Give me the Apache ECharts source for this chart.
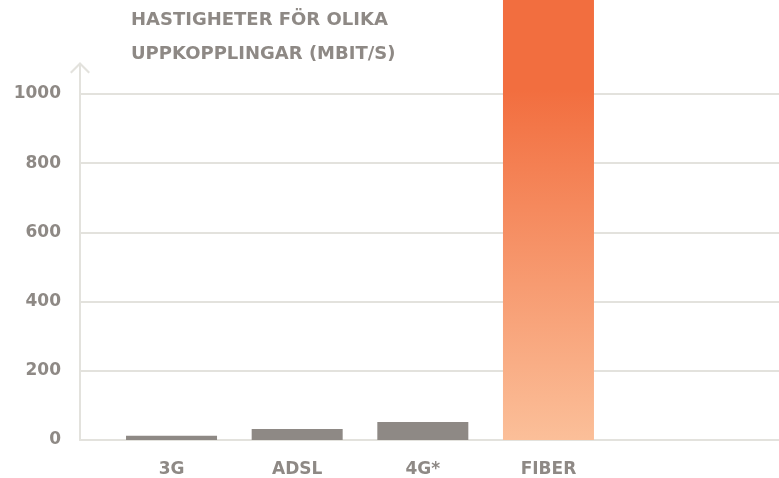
<!DOCTYPE html>
<html>
<head>
<meta charset="utf-8">
<script src="https://cdn.jsdelivr.net/npm/echarts@6/dist/echarts.min.js"></script>
<style>
html,body{margin:0;padding:0;background:#fff;}
#c{width:779px;height:478px;}
</style>
</head>
<body>
<div id="c"></div>
<script>
var categories = ['3G', 'ADSL', '4G*', 'FIBER'];
var speeds = [12, 32, 52, 1300];
var yTicks = [0, 200, 400, 600, 800, 1000];
var titleText = 'HASTIGHETER FÖR OLIKA\nUPPKOPPLINGAR (MBIT/S)';

var textGrey = '#8e8985';
var barGrey = '#8e8985';
var lineGrey = '#e3e2dd';
var font = 'DejaVu Sans';

var chart = echarts.init(document.getElementById('c'), null, {renderer: 'canvas'});

var arrowPath = 'path://M10 0 L20 10 L18.5 11.5 L11 4 L11 32 L9 32 L9 4 L1.5 11.5 L0 10 Z';

var option = {
  animation: false,
  backgroundColor: '#ffffff',
  title: {
    text: titleText,
    left: 126,
    top: -2,
    textStyle: {
      fontFamily: font,
      fontWeight: 'bold',
      fontSize: 18,
      color: textGrey,
      lineHeight: 34.5
    }
  },
  grid: [
    {left: 80, right: 0, top: 94, bottom: 38, containLabel: false},
    {left: 108.7, right: 167.7, top: 94, bottom: 38, containLabel: false}
  ],
  xAxis: [
    {
      type: 'category',
      gridIndex: 0,
      data: [''],
      axisLine: {show: true, lineStyle: {color: lineGrey, width: 2}},
      axisTick: {show: false},
      axisLabel: {show: false},
      splitLine: {show: false}
    },
    {
      type: 'category',
      gridIndex: 1,
      data: categories,
      axisLine: {show: false},
      axisTick: {show: false},
      axisLabel: {
        margin: 21,
        fontFamily: font,
        fontWeight: 'bold',
        fontSize: 17,
        color: textGrey
      },
      splitLine: {show: false}
    }
  ],
  yAxis: [
    {
      type: 'value',
      gridIndex: 0,
      min: yTicks[0],
      max: yTicks[yTicks.length - 1],
      interval: 200,
      axisLine: {
        show: true,
        symbol: ['none', arrowPath],
        symbolSize: [20, 32],
        symbolOffset: [0, 16],
        lineStyle: {color: lineGrey, width: 2}
      },
      axisTick: {show: false},
      axisLabel: {
        margin: 19,
        padding: [0, 0, 10, 0],
        fontFamily: font,
        fontWeight: 'bold',
        fontSize: 17,
        color: textGrey,
        formatter: function (v) { return String(v); }
      },
      splitLine: {show: true, lineStyle: {color: lineGrey, width: 2}}
    },
    {
      type: 'value',
      gridIndex: 1,
      min: yTicks[0],
      max: yTicks[yTicks.length - 1],
      interval: 200,
      show: false,
      splitLine: {show: false}
    }
  ],
  series: [
    {
      type: 'bar',
      xAxisIndex: 1,
      yAxisIndex: 1,
      clip: false,
      barWidth: 91,
      data: speeds.map(function (v, i) {
        if (categories[i] === 'FIBER') {
          return {
            value: v,
            itemStyle: {
              color: {
                type: 'linear', x: 0, y: 90, x2: 0, y2: 440, global: true,
                colorStops: [
                  {offset: 0, color: '#f26e3f'},
                  {offset: 1, color: '#fbbf99'}
                ]
              }
            }
          };
        }
        return {value: v, itemStyle: {color: barGrey}};
      })
    }
  ]
};
chart.setOption(option);
</script>
</body>
</html>
